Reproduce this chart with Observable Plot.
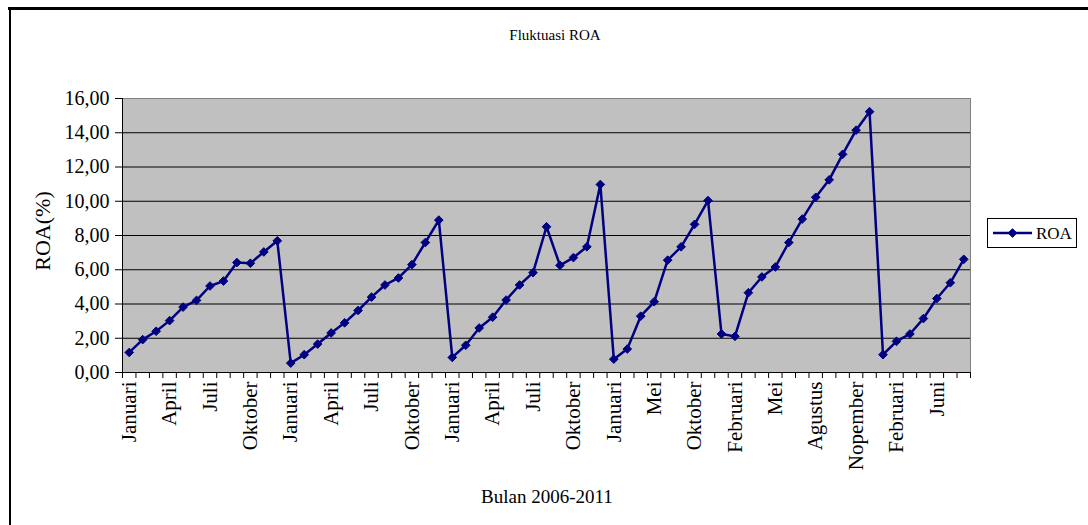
<!DOCTYPE html>
<html><head><meta charset="utf-8">
<script src="https://cdn.jsdelivr.net/npm/d3@7"></script>
<script src="https://cdn.jsdelivr.net/npm/@observablehq/plot@0.6"></script>
<style>
body{margin:0;background:#fff}
#chart{position:relative;width:1088px;height:525px;overflow:hidden}
#chart svg text{font-family:'Liberation Serif','Times New Roman',serif}
</style>
</head><body><div id="chart"></div>
<script>
const title = "Fluktuasi ROA";
const xTitle = "Bulan 2006-2011";
const yTitle = "ROA(%)";
const seriesName = "ROA";
const roa = [1.17,1.92,2.41,3.03,3.82,4.21,5.05,5.34,6.42,6.38,7.04,7.69,
  0.55,1.04,1.66,2.31,2.90,3.62,4.40,5.11,5.52,6.30,7.59,8.90,
  0.88,1.59,2.60,3.23,4.23,5.11,5.83,8.51,6.26,6.71,7.34,10.98,
  0.78,1.37,3.29,4.13,6.56,7.34,8.65,10.04,2.25,2.11,4.66,5.58,
  6.16,7.59,8.96,10.23,11.25,12.74,14.15,15.23,1.04,1.82,2.25,3.15,
  4.32,5.24,6.61];
const tickLabels = ["Januari","April","Juli","Oktober","Januari","April","Juli","Oktober",
  "Januari","April","Juli","Oktober","Januari","Mei","Oktober","Februari","Mei","Agustus",
  "Nopember","Februari","Juni"];
const labelStep = 3;
const yTicks = [0,2,4,6,8,10,12,14,16];

const data = roa.map((v, i) => ({i, v}));
const n = roa.length;
const boundaries = d3.range(n + 1).map(k => k - 0.5);
const labelIdx = tickLabels.map((_, k) => k * labelStep);
const fmt = d => d.toFixed(2).replace(".", ",");
const serif = "'Liberation Serif', 'Times New Roman', serif";
const navy = "#000080";

const W = 1088, H = 525;
const plot = Plot.plot({
  width: W, height: H,
  marginLeft: 122, marginRight: 118, marginTop: 98, marginBottom: 153,
  style: {fontFamily: serif, fontSize: "16px", background: "transparent", overflow: "visible"},
  x: {type: "linear", domain: [-0.5, n - 0.5], label: null},
  y: {domain: [0, 16], label: null},
  marks: [
    Plot.frame({fill: "#c0c0c0", stroke: "#808080", strokeWidth: 1}),
    Plot.ruleY(yTicks.slice(1, -1), {stroke: "#000", strokeWidth: 1}),
    Plot.axisY({ticks: yTicks, tickSize: 7, tickPadding: 6, tickFormat: fmt, fontSize: 20, stroke: "#000", label: null}),
    Plot.axisX({ticks: boundaries, tickSize: 6, tickFormat: () => "", stroke: "#000", label: null}),
    Plot.axisX({ticks: labelIdx, tickSize: 0, tickPadding: 9, tickRotate: -90, fontSize: 21,
      tickFormat: d => tickLabels[Math.round(d / labelStep)], label: null}),
    Plot.ruleX([-0.5], {stroke: "#000", strokeWidth: 1}),
    Plot.ruleY([0], {stroke: "#000", strokeWidth: 1}),
    Plot.line(data, {x: "i", y: "v", stroke: navy, strokeWidth: 2.5}),
    Plot.dot(data, {x: "i", y: "v", symbol: "diamond2", r: 3.9, fill: navy, stroke: navy, strokeWidth: 1})
  ]
});
document.getElementById("chart").appendChild(plot);

const svg = d3.select(plot);
// outer chart frame
svg.append("line").attr("x1", 8).attr("x2", W).attr("y1", 8.5).attr("y2", 8.5)
  .attr("stroke", "#000").attr("stroke-width", 3);
svg.append("line").attr("x1", 10).attr("x2", 10).attr("y1", 7).attr("y2", H)
  .attr("stroke", "#000").attr("stroke-width", 2);
// title
svg.append("text").attr("x", 555).attr("y", 40).attr("text-anchor", "middle")
  .attr("font-family", serif).attr("font-size", 15).attr("fill", "#000").text(title);
// y title
svg.append("text").attr("transform", "translate(50,231) rotate(-90)").attr("text-anchor", "middle")
  .attr("font-family", serif).attr("font-size", 22).attr("fill", "#000").text(yTitle);
// x title
svg.append("text").attr("x", 547).attr("y", 503).attr("text-anchor", "middle")
  .attr("font-family", serif).attr("font-size", 19).attr("fill", "#000").text(xTitle);
// legend
const lg = svg.append("g");
lg.append("rect").attr("x", 987.5).attr("y", 218.5).attr("width", 89).attr("height", 29)
  .attr("fill", "#fff").attr("stroke", "#000").attr("stroke-width", 1);
lg.append("line").attr("x1", 993).attr("x2", 1032).attr("y1", 233).attr("y2", 233)
  .attr("stroke", navy).attr("stroke-width", 2.5);
lg.append("path").attr("transform", "translate(1012.5,233)")
  .attr("d", d3.symbol(d3.symbolDiamond2, Math.PI * 3.9 * 3.9)())
  .attr("fill", navy).attr("stroke", navy);
lg.append("text").attr("x", 1036).attr("y", 239).attr("text-anchor", "start")
  .attr("font-family", serif).attr("font-size", 17)
  .attr("fill", "#000").text(seriesName);
</script>
</body></html>
